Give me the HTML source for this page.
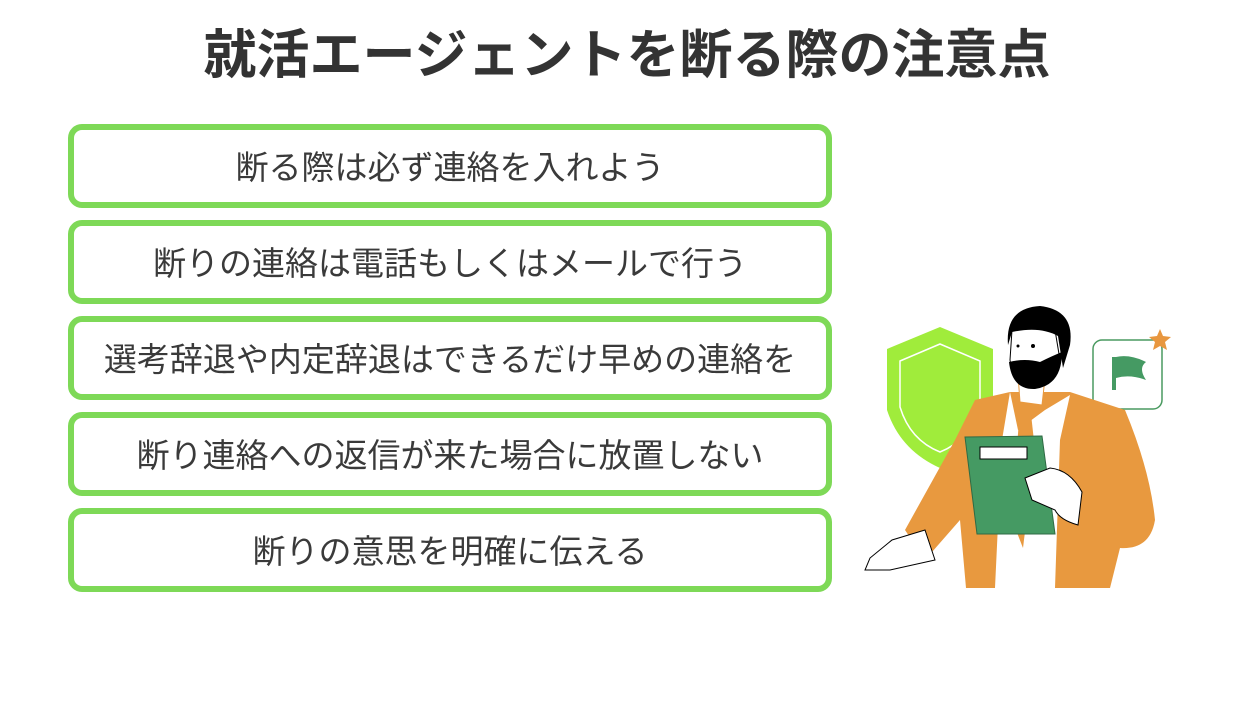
<!DOCTYPE html>
<html><head><meta charset="utf-8"><style>
body{margin:0;width:1260px;height:720px;background:#fff;position:relative;overflow:hidden;font-family:"Liberation Sans","Noto Sans CJK JP",sans-serif}
h1{position:absolute;left:0;width:1254px;top:22px;margin:0;text-align:center;font-size:53px;font-weight:bold;color:#333;line-height:68px}
.b{position:absolute;left:68px;width:752px;height:72px;border:6px solid #7ed957;border-radius:14px;font-size:33px;color:#3a3a3a;text-align:center;line-height:76px}
</style></head><body>
<h1>就活エージェントを断る際の注意点</h1>
<div class="b" style="top:124px">断る際は必ず連絡を入れよう</div>
<div class="b" style="top:220px">断りの連絡は電話もしくはメールで行う</div>
<div class="b" style="top:316px">選考辞退や内定辞退はできるだけ早めの連絡を</div>
<div class="b" style="top:412px">断り連絡への返信が来た場合に放置しない</div>
<div class="b" style="top:508px">断りの意思を明確に伝える</div>
<svg style="position:absolute;left:0;top:0" width="1260" height="720">
<path d="M887,349 L940,327 L993,349 L993,410 Q980,450 940,468 Q900,450 887,410 Z" fill="#a0ec3b"/>
<path d="M900,361 L940,344 L980,361 L980,407 Q970,440 940,452 Q910,440 900,407 Z" fill="none" stroke="#fff" stroke-width="1.5"/>
<rect x="1093" y="340" width="69" height="69" rx="9" fill="#fff" stroke="#4a9a60" stroke-width="1.5"/>
<rect x="1112" y="357" width="4" height="33" fill="#459a63"/>
<path d="M1116,357 Q1130,354 1146,362 Q1138,368 1146,380 Q1130,374 1116,378 Z" fill="#459a63"/>
<polygon points="1160,329 1163,336 1171,337 1165,342 1167,350 1160,346 1153,350 1155,342 1149,337 1157,336" fill="#e8973f"/>
<path d="M975,400 L1010,392 L1070,392 L1125,410 Q1150,470 1155,520 Q1150,550 1120,548 L1110,588 L966,588 L960,520 L925,560 L905,530 L955,440 Z" fill="#e8993f"/>
<path d="M1010,392 L1018,430 L1045,410 L1070,395 L1060,440 L1055,588 L995,588 L1002,440 Z" fill="#fff"/>
<path d="M1020,405 L1030,405 L1035,450 L1023,548 L1012,520 Z" fill="#e8993f"/>
<path d="M1018,375 L1045,378 L1042,405 L1020,402 Z" fill="#fff" stroke="#e8993f"/>
<path d="M1012,330 Q1035,320 1055,330 L1060,360 Q1050,385 1030,385 Q1012,380 1010,360 Z" fill="#fff" stroke="#000"/>
<path d="M1008,345 Q1005,308 1040,306 Q1075,310 1070,345 L1063,368 L1058,336 Q1040,326 1012,332 Z" fill="#000"/>
<path d="M1009,362 Q1025,358 1040,362 Q1052,356 1062,352 Q1062,385 1035,389 Q1012,390 1009,362 Z" fill="#000"/>
<circle cx="1033" cy="346" r="2" fill="#000"/><circle cx="1018" cy="346" r="1.5" fill="#000"/>
<path d="M965,437 L1042,436 L1055,534 L977,534 Z" fill="#459a63" stroke="#2f6a44"/>
<rect x="980" y="447" width="47" height="12" fill="#fff" stroke="#000"/>
<path d="M1025,478 L1050,468 Q1070,470 1082,492 L1078,525 Q1060,520 1055,510 L1032,500 Z" fill="#fff" stroke="#000"/>
<path d="M925,530 L892,540 L870,558 L865,570 L890,570 L935,560 Z" fill="#fff" stroke="#000"/>
</svg>
</body></html>
